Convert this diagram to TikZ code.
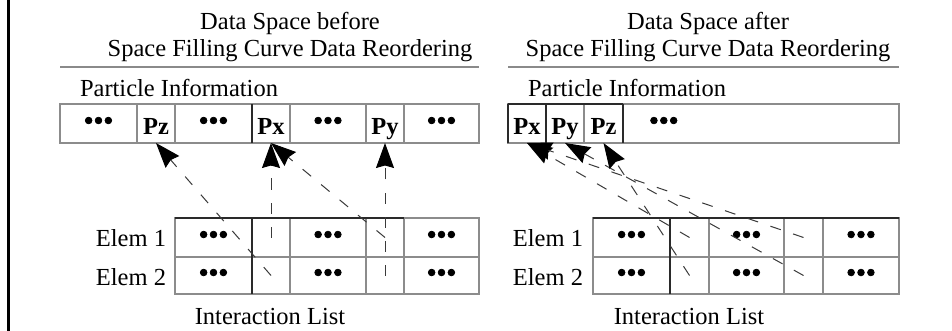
\documentclass[tikz,border=0pt]{standalone}
\usepackage{fontspec}
\usepackage{graphicx}
\setmainfont{Liberation Serif}
\newfontfamily\dotfont[FakeBold=2.5]{Liberation Serif}
\usetikzlibrary{arrows.meta}
\definecolor{gridgray}{HTML}{8C8C8C}
\definecolor{griddark}{HTML}{2A2A2A}
\definecolor{dashgray}{HTML}{3A3A3A}
\definecolor{sepgray}{HTML}{8A8A8A}
\newcommand{\celldots}{{\dotfont\scalebox{1.15}{•••}}}
\begin{document}
\begin{tikzpicture}[x=1pt,y=-1pt,
  every node/.style={font=\fontsize{24.5}{28}\selectfont, inner sep=0pt, outer sep=0pt},
  cell/.style={draw=gridgray, line width=1.3pt, minimum height=39pt, anchor=center},
  lowcell/.style={cell, minimum height=37pt},
  ptxt/.style={font=\fontsize{24.5}{28}\selectfont\bfseries, text height=23pt, text depth=0pt},
  darkline/.style={draw=griddark, line width=1.3pt},
  seprule/.style={draw=sepgray, line width=2pt},
  conn/.style={draw=dashgray, line width=1pt, dash pattern=on 11pt off 13pt,
    -{Stealth[length=25pt,width=18pt,inset=2.5pt,color=black]}},
  label/.style={anchor=base}
]
\useasboundingbox (0,0) rectangle (952,331);
\fill[white] (0,0) rectangle (952,331);
% left border
\draw[line width=3pt, black] (8.5,0) -- (8.5,331);

% ---------- titles ----------
\node[label] (tl1) at (290,29.5) {Data Space before};
\node[label] (tl2) at (290,56.5) {Space Filling Curve Data Reordering};
\node[label] (tr1) at (708,29.5) {Data Space after};
\node[label] (tr2) at (708,56.5) {Space Filling Curve Data Reordering};
\draw[seprule] (60,67) -- (479,67);
\draw[seprule] (508,67) -- (899,67);

\node[anchor=base west] (pil) at (80,97) {Particle Information};
\node[anchor=base west] (pir) at (528,97) {Particle Information};

% ---------- left particle array ----------
\node[cell, minimum width=77pt] (lp1) at (98.5,123.5) {\celldots};
\node[cell, minimum width=38pt, ptxt] (lp2) at (156,123.5) {Pz};
\node[cell, minimum width=77pt] (lp3) at (213.5,123.5) {\celldots};
\node[cell, minimum width=38pt, ptxt] (lp4) at (271,123.5) {Px};
\node[cell, minimum width=76pt] (lp5) at (328,123.5) {\celldots};
\node[cell, minimum width=38pt, ptxt] (lp6) at (385,123.5) {Py};
\node[cell, minimum width=75pt] (lp7) at (441.5,123.5) {\celldots};
\draw[darkline] (lp4.north west) -- (lp4.south west);

% ---------- right particle array ----------
\node[cell, minimum width=38pt, ptxt] (rp1) at (527,123.5) {Px};
\node[cell, minimum width=38pt, ptxt] (rp2) at (565,123.5) {Py};
\node[cell, minimum width=39pt, ptxt] (rp3) at (603.5,123.5) {Pz};
\node[cell, minimum width=276pt, text width=276pt, align=left] (rp4) at (761,123.5) {\hspace*{26pt}\celldots};
\draw[darkline] (rp1.north west) -- (rp1.south west);
\draw[darkline] (rp1.north east) -- (rp1.south east);
\draw[darkline] (rp3.north east) -- (rp3.south east);
\draw[darkline] (rp1.north west) -- (rp3.north east);

% ---------- left interaction list ----------
\node[cell, minimum width=77pt] (la1) at (213.5,237.5) {\celldots};
\node[cell, minimum width=38pt] (la2) at (271,237.5) {};
\node[cell, minimum width=76pt] (la3) at (328,237.5) {\celldots};
\node[cell, minimum width=38pt] (la4) at (385,237.5) {};
\node[cell, minimum width=75pt] (la5) at (441.5,237.5) {\celldots};
\node[lowcell, minimum width=77pt] (lb1) at (213.5,275.5) {\celldots};
\node[lowcell, minimum width=38pt] (lb2) at (271,275.5) {};
\node[lowcell, minimum width=76pt] (lb3) at (328,275.5) {\celldots};
\node[lowcell, minimum width=38pt] (lb4) at (385,275.5) {};
\node[lowcell, minimum width=75pt] (lb5) at (441.5,275.5) {\celldots};
\draw[darkline] (la2.north west) -- (lb2.south west);
\draw[darkline] (la1.north west) -- (la4.north east);

\node[anchor=base east] (le1) at (166,246) {Elem 1};
\node[anchor=base east] (le2) at (166,285) {Elem 2};
\node[label] (lil) at (270,324) {Interaction List};

% ---------- right interaction list ----------
\node[cell, minimum width=77pt] (ra1) at (631.5,237.5) {\celldots};
\node[cell, minimum width=39pt] (ra2) at (689.5,237.5) {};
\node[cell, minimum width=75pt] (ra3) at (746.5,237.5) {\celldots};
\node[cell, minimum width=39pt] (ra4) at (803.5,237.5) {};
\node[cell, minimum width=76pt] (ra5) at (861,237.5) {\celldots};
\node[lowcell, minimum width=77pt] (rb1) at (631.5,275.5) {\celldots};
\node[lowcell, minimum width=39pt] (rb2) at (689.5,275.5) {};
\node[lowcell, minimum width=75pt] (rb3) at (746.5,275.5) {\celldots};
\node[lowcell, minimum width=39pt] (rb4) at (803.5,275.5) {};
\node[lowcell, minimum width=76pt] (rb5) at (861,275.5) {\celldots};
\draw[darkline] (ra2.north west) -- (rb2.south west);
\draw[darkline] (ra1.north west) -- (ra5.north east);

\node[anchor=base east] (re1) at (583,246) {Elem 1};
\node[anchor=base east] (re2) at (583,285) {Elem 2};
\node[label] (ril) at (689,324) {Interaction List};

% ---------- connectors ----------
\draw[conn] (lb2.center) -- (lp2.south);
\draw[conn] (la2.center) -- (lp4.south);
\draw[conn] (la4.center) -- (lp4.south);
\draw[conn] (lb4.center) -- (lp6.south);

\draw[conn] (ra2.center) -- (rp1.south);
\draw[conn] (ra4.center) -- (rp1.south);
\draw[conn] (rb4.center) -- (rp2.south);
\draw[conn] (rb2.center) -- (rp3.south);
\end{tikzpicture}
\end{document}
